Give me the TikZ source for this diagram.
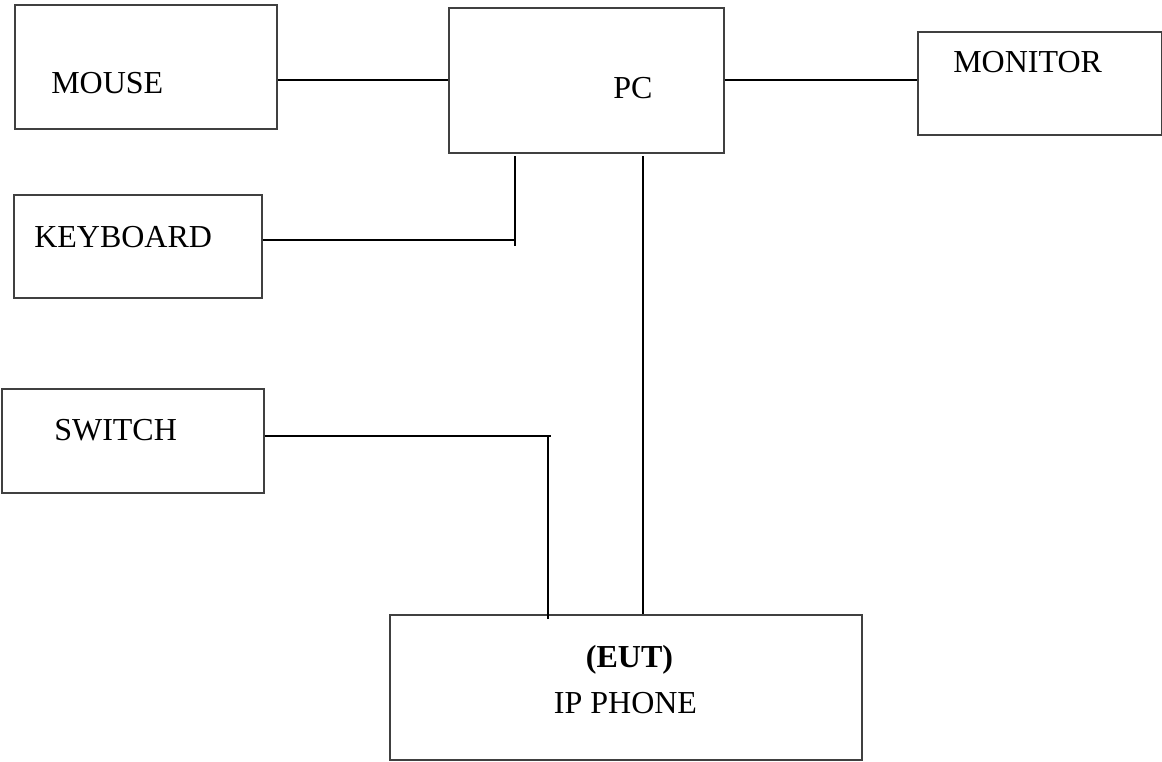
\documentclass[tikz,border=0pt]{standalone}
\usepackage{fontspec}
\setmainfont{Liberation Serif}
\begin{document}
\begin{tikzpicture}[x=0.75pt,y=-0.75pt,
  box/.style={draw=black!75,line width=1.4pt,fill=none,inner sep=0pt,anchor=north west},
  lbl/.style={font=\fontsize{24}{28}\selectfont,inner sep=0pt,anchor=base west},
  wire/.style={draw=black,line width=1.6pt}]
\useasboundingbox (0,0) rectangle (1162,761);
% boxes
\node[box,minimum width=262*0.75pt,minimum height=124*0.75pt] (mouse) at (14,4) {};
\node[box,minimum width=275*0.75pt,minimum height=145*0.75pt] (pc) at (448,7) {};
\node[box,minimum width=244*0.75pt,minimum height=103*0.75pt] (monitor) at (917,31) {};
\node[box,minimum width=248*0.75pt,minimum height=103*0.75pt] (kbd) at (13,194) {};
\node[box,minimum width=262*0.75pt,minimum height=104*0.75pt] (switch) at (1,388) {};
\node[box,minimum width=472*0.75pt,minimum height=145*0.75pt] (phone) at (389,614) {};
% labels
\node[lbl] (tmouse) at (51,93) {MOUSE};
\node[lbl] (tpc) at (613,98) {PC};
\node[lbl] (tmon) at (953,72) {MONITOR};
\node[lbl] (tkbd) at (34,247) {KEYBOARD};
\node[lbl] (tsw) at (54,440) {SWITCH};
\node[lbl,anchor=base] (teut) at (629.5,667) {\textbf{(EUT)}};
\node[lbl,anchor=base] (tphone) at (625.5,713) {IP PHONE};
% helper coordinates
\coordinate (ym) at (0,80);
\coordinate (ymon) at (0,80);
\coordinate (ykb) at (0,240);
\coordinate (kbx) at (515,0);
\coordinate (kbtop) at (515,156);
\coordinate (kbbot) at (515,246);
\coordinate (pcx) at (643,156);
\coordinate (ysw) at (0,436);
\coordinate (swx) at (548,0);
\coordinate (swend) at (551,436);
\coordinate (swbot) at (548,619);
% connectors
\draw[wire] (mouse.east |- ym) -- (pc.west |- ym);
\draw[wire] (pc.east |- ymon) -- (monitor.west |- ymon);
\draw[wire] (kbd.east |- ykb) -- (kbx |- ykb);
\draw[wire] (kbtop) -- (kbbot);
\draw[wire] (pcx) -- (pcx |- phone.north);
\draw[wire] (switch.east |- ysw) -- (swend);
\draw[wire] (swx |- ysw) -- (swbot);
\end{tikzpicture}
\end{document}
